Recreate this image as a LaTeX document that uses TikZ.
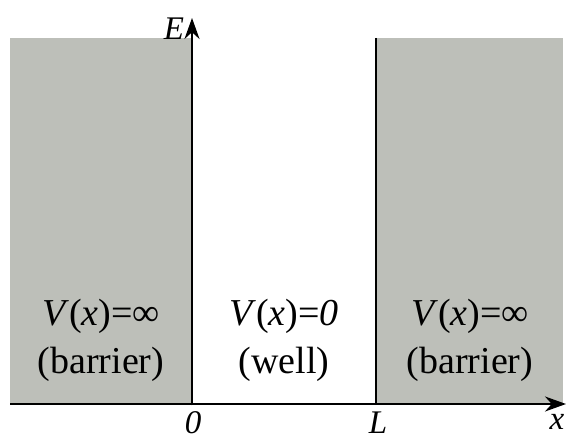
\documentclass[tikz,border=0pt]{standalone}
\usepackage{fontspec}
\setmainfont{Liberation Serif}
\usetikzlibrary{arrows.meta}
\definecolor{barriergray}{RGB}{189,191,185}
\tikzset{
  barrier/.style={fill=barriergray,draw=none},
  axis/.style={line width=2.6pt,-{Stealth[length=21pt,width=15pt]}},
  lbl/.style={font=\fontsize{38}{48}\selectfont,align=center,inner sep=0pt},
  axlbl/.style={font=\fontsize{33}{36}\selectfont\itshape,inner sep=0pt}
}
\begin{document}
\begin{tikzpicture}[x=1pt,y=-1pt]
\useasboundingbox (0,0) rectangle (568,441);
\fill[barrier] (10,38) rectangle (192,404);
\fill[barrier] (376,38) rectangle (563,404);
\coordinate (rtop) at (376,38);
\coordinate (rbot) at (376,404);
\draw[line width=1.8pt] (rtop) -- (rbot);
\coordinate (xs) at (10,404);
\coordinate (xe) at (566,404);
\coordinate (ys) at (192,405.3);
\coordinate (ye) at (192,18);
\draw[axis] (xs) -- (xe);
\draw[axis] (ys) -- (ye);
\node[axlbl] (E) at (174,29) {E};
\node[axlbl] (xl) at (557,422) {x};
\node[axlbl] (zero) at (193,423) {0};
\node[axlbl] (L) at (378,423) {L};
\node[lbl] (left) at (101,340) {\textit{V}(\textit{x})=∞\\(barrier)};
\node[lbl] (mid) at (284,340) {\textit{V}(\textit{x})=\textit{0}\\(well)};
\node[lbl] (right) at (470,340) {\textit{V}(\textit{x})=∞\\(barrier)};
\end{tikzpicture}
\end{document}
